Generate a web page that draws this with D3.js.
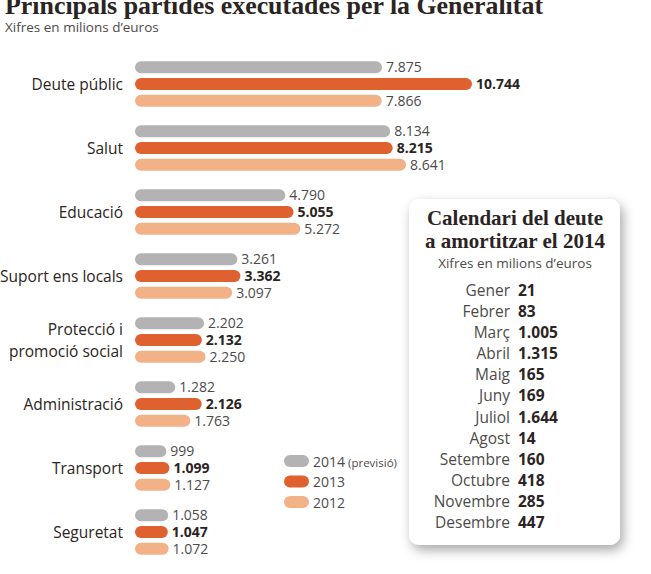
<!DOCTYPE html>
<html><head><meta charset="utf-8">
<script src="https://cdn.jsdelivr.net/npm/d3@7"></script>
<style>
html,body{margin:0;padding:0;background:#fff;}
svg{display:block;}
</style></head>
<body>
<script>
const categories = ["Deute públic","Salut","Educació","Suport ens locals","Protecció i\npromoció social","Administració","Transport","Seguretat"];
const series = ["2014","2013","2012"];
const seriesLabels = ["2014","2013","2012"];
const values2014 = [7875, 8134, 4790, 3261, 2202, 1282, 999, 1058];
const values2013 = [10744, 8215, 5055, 3362, 2132, 2126, 1099, 1047];
const values2012 = [7866, 8641, 5272, 3097, 2250, 1763, 1127, 1072];
const months = ["Gener","Febrer","Març","Abril","Maig","Juny","Juliol","Agost","Setembre","Octubre","Novembre","Desembre"];
const monthValues = [21, 83, 1005, 1315, 165, 169, 1644, 14, 160, 418, 285, 447];

const W = 651, H = 574;
const colors = {"2014":"#b3b3b3","2013":"#df612f","2012":"#f3b187"};
const textDark = "#2b2422", textGray = "#4d4b4a";
const sans = "'Open Sans', sans-serif";
const serif = "'Liberation Serif', serif";

const loc = d3.formatLocale({decimal:",", thousands:".", grouping:[3], currency:["","€"]});
const fmt = loc.format(",d");

const svg = d3.select("body").append("svg").attr("width", W).attr("height", H);
const defs = svg.append("defs");
const f = defs.append("filter").attr("id","sh").attr("x","-20%").attr("y","-20%").attr("width","150%").attr("height","150%");
f.append("feDropShadow").attr("dx",3).attr("dy",5).attr("stdDeviation",6).attr("flood-color","#000").attr("flood-opacity",0.35);

// Title
svg.append("text").attr("x",5).attr("y",14).attr("font-family",serif).attr("font-weight","bold")
  .attr("font-size",25).attr("fill",textDark).attr("textLength",538).attr("lengthAdjust","spacingAndGlyphs")
  .text("Principals partides executades per la Generalitat");
svg.append("text").attr("x",5).attr("y",32).attr("font-family",sans).attr("font-size",13.5)
  .attr("fill",textGray).text("Xifres en milions d’euros");

const data = categories.map((c,i)=>({cat:c, vals:{"2014":values2014[i],"2013":values2013[i],"2012":values2012[i]}}));

const y0 = d3.scaleBand().domain(categories).range([52, 564]);
const y1 = d3.scaleBand().domain(series).range([-25, 25]);
const x = d3.scaleLinear().domain([0, 10744]).range([135, 472]);
const bh = 12;

const g = svg.append("g");
const grp = g.selectAll("g.grp").data(data).join("g").attr("class","grp")
  .attr("transform", d=>`translate(0,${y0(d.cat)+y0.bandwidth()/2})`);

grp.each(function(d){
  const sel = d3.select(this);
  const lines = d.cat.split("\n");
  const t = sel.append("text").attr("text-anchor","end").attr("font-family",sans).attr("font-size",15.5).attr("fill",textDark);
  lines.forEach((l,i)=>{
    t.append("tspan").attr("x",123).attr("y", (i-(lines.length-1)/2)*22 + 5.5).text(l);
  });
  series.forEach(s=>{
    const cy = y1(s)+y1.bandwidth()/2;
    const v = d.vals[s];
    sel.append("rect").attr("x",x(0)).attr("y",cy-bh/2).attr("width",x(v)-x(0)).attr("height",bh)
      .attr("rx",bh/2).attr("fill",colors[s]);
    sel.append("text").attr("x",x(v)+4).attr("y",cy+5).attr("font-family",sans)
      .attr("font-size",14).attr("font-weight", s==="2013"?"bold":"normal")
      .attr("fill", s==="2013"?textDark:textGray).text(fmt(v));
  });
});

// Legend
const leg = svg.append("g");
const legY = d3.scalePoint().domain(series).range([461, 502]);
series.forEach((s,i)=>{
  const cy = legY(s);
  leg.append("rect").attr("x",284).attr("y",cy-6).attr("width",25).attr("height",12).attr("rx",6).attr("fill",colors[s]);
  const t = leg.append("text").attr("x",313).attr("y",cy+5.5).attr("font-family",sans).attr("font-size",14).attr("fill",textGray).text(seriesLabels[i]);
  if(s==="2014") t.append("tspan").attr("font-size",11.5).text(" (previsió)");
});

// Box
const bx = 409, by = 199, bw = 211, bhh = 346;
svg.append("rect").attr("x",bx).attr("y",by).attr("width",bw).attr("height",bhh).attr("rx",10)
  .attr("fill","#fff").attr("filter","url(#sh)");
const cx = 515;
svg.append("text").attr("x",cx).attr("y",225).attr("text-anchor","middle").attr("font-family",serif)
  .attr("font-weight","bold").attr("font-size",21).attr("fill",textDark).text("Calendari del deute");
svg.append("text").attr("x",cx).attr("y",248).attr("text-anchor","middle").attr("font-family",serif)
  .attr("font-weight","bold").attr("font-size",21).attr("fill",textDark).text("a amortitzar el 2014");
svg.append("text").attr("x",cx).attr("y",268).attr("text-anchor","middle").attr("font-family",sans)
  .attr("font-size",13.5).attr("fill",textGray).text("Xifres en milions d’euros");

const my = d3.scalePoint().domain(months).range([296, 528]);
months.forEach((m,i)=>{
  svg.append("text").attr("x",510).attr("y",my(m)).attr("text-anchor","end").attr("font-family",sans)
    .attr("font-size",15.5).attr("fill",textGray).text(m);
  svg.append("text").attr("x",518).attr("y",my(m)).attr("font-family",sans).attr("font-weight","bold")
    .attr("font-size",15.5).attr("fill",textDark).text(fmt(monthValues[i]));
});
</script>
</body></html>
